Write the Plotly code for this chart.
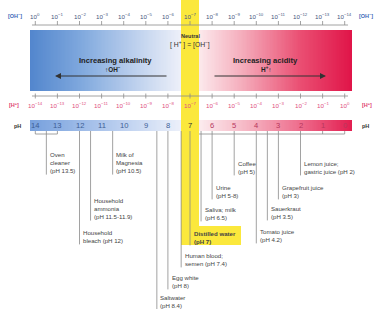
import plotly.graph_objects as go
import numpy as np

# ---------------- data ----------------
ph_scale = [14, 13, 12, 11, 10, 9, 8, 7, 6, 5, 4, 3, 2, 1, 0]
oh_labels = ["10<sup>0</sup>", "10<sup>−1</sup>", "10<sup>−2</sup>", "10<sup>−3</sup>", "10<sup>−4</sup>",
             "10<sup>−5</sup>", "10<sup>−6</sup>", "10<sup>−7</sup>", "10<sup>−8</sup>", "10<sup>−9</sup>",
             "10<sup>−10</sup>", "10<sup>−11</sup>", "10<sup>−12</sup>", "10<sup>−13</sup>", "10<sup>−14</sup>"]
h_labels = ["10<sup>−14</sup>", "10<sup>−13</sup>", "10<sup>−12</sup>", "10<sup>−11</sup>", "10<sup>−10</sup>",
            "10<sup>−9</sup>", "10<sup>−8</sup>", "10<sup>−7</sup>", "10<sup>−6</sup>", "10<sup>−5</sup>",
            "10<sup>−4</sup>", "10<sup>−3</sup>", "10<sup>−2</sup>", "10<sup>−1</sup>", "10<sup>0</sup>"]

substances = ["Oven<br>cleaner<br>(pH 13.5)", "Household<br>bleach (pH 12)",
              "Household<br>ammonia<br>(pH 11.5-11.9)", "Milk of<br>Magnesia<br>(pH 10.5)",
              "Saltwater<br>(pH 8.4)", "Egg white<br>(pH 8)", "Human blood;<br>semen (pH 7.4)",
              "<b>Distilled water</b><br><b>(pH 7)</b>", "Saliva; milk<br>(pH 6.5)", "Urine<br>(pH 5-8)",
              "Coffee<br>(pH 5)", "Tomato juice<br>(pH 4.2)", "Sauerkraut<br>(pH 3.5)",
              "Grapefruit juice<br>(pH 3)", "Lemon juice;<br>gastric juice (pH 2)"]
substance_ph = [13.5, 12, 11.5, 10.5, 8.5, 8, 7.4, 7, 6.5, 6, 5, 4, 3.5, 3, 2]

# ---------------- layout helpers ----------------
label_top = [149, 227, 195, 149, 292, 272, 250, 228, 204, 182, 158, 226, 203, 182, 158]
PX7, SCALE = 190.0, 22.1


def ph_at(px):
    return 7 - (px - PX7) / SCALE


FONT = "Liberation Sans, Arial, sans-serif"
YELLOW = "#fbe83c"
GRAY = "#8c8c8c"

fig = go.Figure()


def gradient(y0, y1, stops):
    lo, hi = ph_at(352), ph_at(30)
    edges = np.linspace(hi, lo, 241)
    mids = (edges[:-1] + edges[1:]) / 2
    cs = [[(p - lo) / (hi - lo), c] for p, c in stops]
    cs.sort(key=lambda s: s[0])
    fig.add_trace(go.Heatmap(x=edges, y=[y0, y1], z=[mids], zmin=lo, zmax=hi,
                             colorscale=cs, showscale=False, hoverinfo="skip", zsmooth=False))


lo_, hi_ = ph_at(352), ph_at(30)
gradient(30, 91, [(lo_, "rgb(224,20,72)"), (2, "rgb(234,78,114)"), (4.5, "rgb(244,168,184)"),
                  (6.6, "rgb(252,234,237)"), (7.4, "rgb(238,240,249)"), (9.5, "rgb(188,208,237)"),
                  (12, "rgb(126,167,221)"), (hi_, "rgb(82,134,205)")])
gradient(120, 131, [(lo_, "rgb(226,30,80)"), (2, "rgb(238,108,140)"), (4.5, "rgb(246,184,197)"),
                    (6.6, "rgb(252,236,239)"), (7.4, "rgb(236,240,250)"), (10, "rgb(190,209,240)"),
                    (hi_, "rgb(118,160,221)")])

# yellow neutral band + distilled water box
fig.add_trace(go.Scatter(
    x=[ph_at(181), ph_at(199), ph_at(199), ph_at(241), ph_at(241), ph_at(181), ph_at(181)],
    y=[0, 0, 226, 226, 245, 245, 0], fill="toself", fillcolor=YELLOW,
    line=dict(width=0), mode="lines", hoverinfo="skip", showlegend=False))


def lines(xs, ys, color=GRAY, width=0.8):
    fig.add_trace(go.Scatter(x=xs, y=ys, mode="lines", line=dict(color=color, width=width),
                             hoverinfo="skip", showlegend=False))


# top [OH-] axis and [H+] axis
for yl, t0, t1 in [(25, 21, 25), (96, 93.5, 98.5)]:
    xs, ys = [ph_scale[0] + 0.15, ph_scale[-1] - 0.15, None], [yl, yl, None]
    for p in ph_scale:
        xs += [p, p, None]
        ys += [t0, t1, None]
    lines(xs, ys)

# bracket lines under the pH bar
lines([14, 14, 13, 13, None, ph_at(199), 0, 0, None, 1, 1],
      [131, 134, 134, 131, None, 134, 134, 131, None, 134, 131])

# substance leader lines
xs, ys = [], []
for p, top, name in zip(substance_ph, label_top, substances):
    n = name.count("<br>") + 1
    xs += [p, p, None]
    ys += [131, top + n * 8.2 + 1, None]
lines(xs, ys, color="#8a8a8a", width=0.8)

ann = []


def text(x, y, s, size=6, color="#444", xanchor="center", yanchor="middle", align="center"):
    ann.append(dict(x=x, y=y, text=s, showarrow=False, xanchor=xanchor, yanchor=yanchor,
                    align=align, font=dict(family=FONT, size=size, color=color)))


for p, t in zip(ph_scale, oh_labels):
    text(p, 15.5, t, size=6.2, color="#44587e")
for p, t in zip(ph_scale, h_labels):
    text(p, 105, t, size=6.2, color="#e0507e")
for p in ph_scale:
    col = "#3d5e96" if p > 7 else ("#333333" if p == 7 else "#b7375d")
    text(p, 125.5, str(p), size=7.6, color=col)

text(ph_at(15), 15.5, "<b>[OH<sup>−</sup>]</b>", size=5.5, color="#3d6bb8")
text(ph_at(366), 15.5, "<b>[OH<sup>−</sup>]</b>", size=5.5, color="#3d6bb8")
text(ph_at(13.5), 105, "<b>[H<sup>+</sup>]</b>", size=5.5, color="#e0406e")
text(ph_at(367), 105, "<b>[H<sup>+</sup>]</b>", size=5.5, color="#e0406e")
text(ph_at(17), 125.5, "<b>pH</b>", size=5.5, color="#333")
text(ph_at(365), 125.5, "<b>pH</b>", size=5.5, color="#333")

text(7, 36, "<b>Neutral</b>", size=5.5, color="#333")
text(7, 44, "[ H<sup>+</sup> ] = [OH<sup>−</sup>]", size=6.8, color="#333")

text(ph_at(115), 60, "<b>Increasing alkalinity</b>", size=7.6, color="#222")
text(ph_at(113), 68.5, "<b>↑OH<sup>−</sup></b>", size=6.4, color="#222")
text(ph_at(265), 60, "<b>Increasing acidity</b>", size=7.6, color="#222")
text(ph_at(266), 68.5, "<b>H<sup>+</sup>↑</b>", size=6.4, color="#222")

for (hx, tx) in [(ph_at(55), ph_at(168)), (ph_at(326), ph_at(213))]:
    ann.append(dict(x=hx, y=76, ax=tx, ay=76, axref="x", ayref="y", xref="x", yref="y",
                    text="", showarrow=True, arrowhead=2, arrowsize=1.2, arrowwidth=1.0,
                    arrowcolor="#333", standoff=0))

for p, top, name in zip(substance_ph, label_top, substances):
    text(p - 1.6 / SCALE, top, name, size=6.1, color="#444",
         xanchor="left", yanchor="top", align="left")

fig.update_layout(
    width=376, height=309, margin=dict(l=0, r=0, t=0, b=0),
    paper_bgcolor="white", plot_bgcolor="white", showlegend=False,
    xaxis=dict(range=[ph_at(0), ph_at(376)], visible=False, fixedrange=True),
    yaxis=dict(range=[309, 0], visible=False, fixedrange=True),
    annotations=ann,
)
fig.write_html("out.html", config={"displayModeBar": False},
               post_script="document.body.style.margin='0';"
                           "document.documentElement.style.overflow='hidden';"
                           "document.body.style.overflow='hidden';")
